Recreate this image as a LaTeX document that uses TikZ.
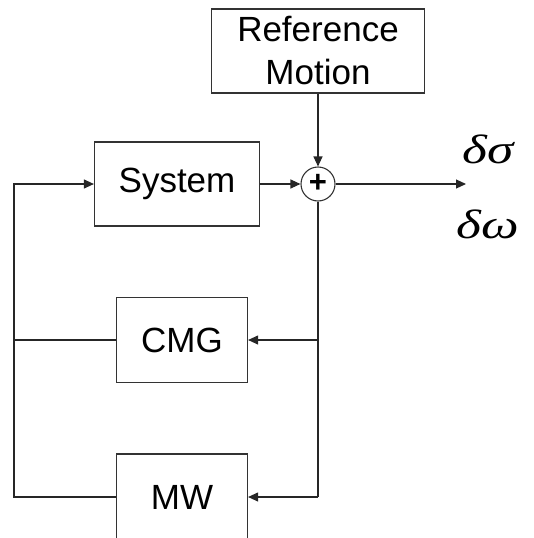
\documentclass[tikz,border=0pt]{standalone}
\usepackage{fontspec}
\setmainfont{Liberation Sans}
\newfontfamily\gkfont{Liberation Serif}
\usetikzlibrary{arrows.meta}
\begin{document}
\begin{tikzpicture}[x=1pt,y=-1pt,
  line width=1.1pt, draw=black!85,
  blk/.style={draw=black!80, line width=1.2pt, inner sep=0pt, align=center,
    font=\fontsize{35}{43}\selectfont},
  sumc/.style={draw=black!80, line width=1.1pt, circle, minimum size=34pt, inner sep=0pt},
  arr/.style={-{Triangle[length=10pt,width=9pt]}},
  gk/.style={font=\gkfont\itshape\fontsize{41}{46}\selectfont}]
\useasboundingbox (0,0) rectangle (534,538);
\clip (0,0) rectangle (534,538);
\node[blk, minimum width=213pt, minimum height=84pt] (ref) at (318,51) {Reference\\Motion};
\node[blk, minimum width=165pt, minimum height=84pt] (sys) at (177,184) {System};
\node[sumc] (sum) at (318,184) {};
\node[font=\bfseries\fontsize{31}{31}\selectfont] (plus) at (318,183) {+};
\node[blk, minimum width=131pt, minimum height=85pt] (cmg) at (182,340) {CMG};
\node[blk, minimum width=131pt, minimum height=86pt] (mw) at (182,497) {MW};
\coordinate (out) at (466,184);
\coordinate (left) at (14,184);
\node[gk] (ds) at (488,149) {\scalebox{1.3}[1]{δσ}};
\node[gk] (dw) at (488,224) {\scalebox{1.3}[1]{δω}};
\draw[arr] (ref) -- (sum);
\draw[arr] (sys) -- (sum);
\draw[arr] (sum) -- (out);
\draw (sum) -- (sum |- mw);
\draw[arr] (sum |- cmg) -- (cmg);
\draw[arr] (sum |- mw) -- (mw);
\draw (cmg) -- (left |- cmg);
\draw[arr] (mw) -- (left |- mw) -- (left) -- (sys);
\end{tikzpicture}
\end{document}
